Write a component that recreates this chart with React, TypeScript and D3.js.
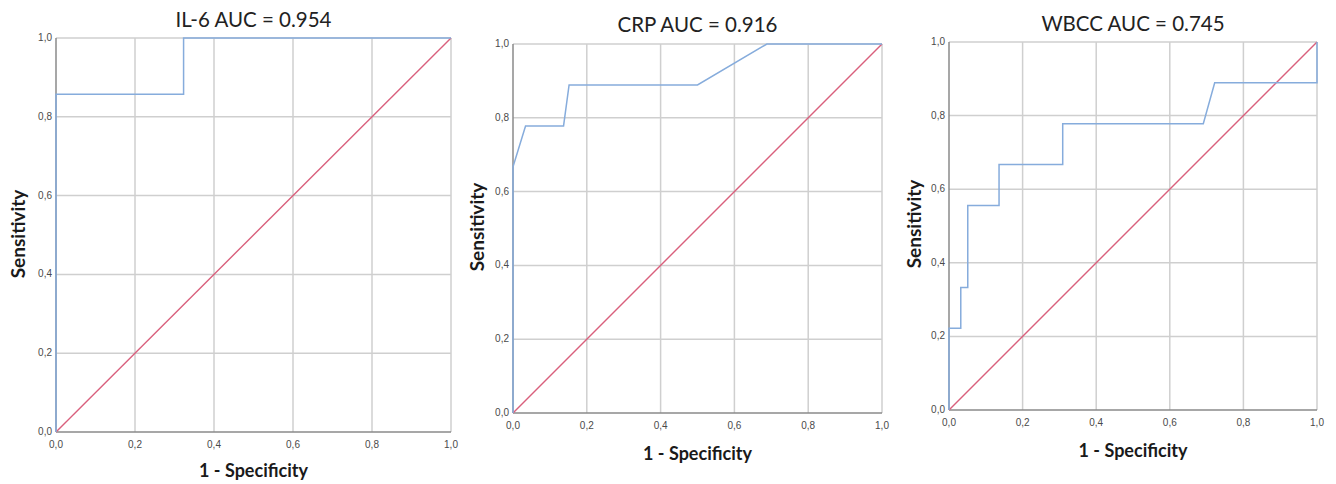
import * as d3 from "d3";

// axis ticks shared by all three ROC panels
const tickValues = [0, 0.2, 0.4, 0.6, 0.8, 1.0];
const tickLabels = ["0,0", "0,2", "0,4", "0,6", "0,8", "1,0"];

// IL-6 ROC curve (1 - specificity, sensitivity)
const il6Fpr = [0, 0, 0.323, 0.323, 1.0];
const il6Tpr = [0, 0.857, 0.857, 1.0, 1.0];

// CRP ROC curve
const crpFpr = [0, 0, 0.034, 0.137, 0.152, 0.5, 0.688, 1.0];
const crpTpr = [0, 0.667, 0.778, 0.778, 0.889, 0.889, 1.0, 1.0];

// WBCC ROC curve
const wbccFpr = [0, 0, 0.032, 0.032, 0.051, 0.051, 0.136, 0.136, 0.309, 0.309, 0.691, 0.722, 1.0, 1.0];
const wbccTpr = [0, 0.222, 0.222, 0.333, 0.333, 0.556, 0.556, 0.667, 0.667, 0.778, 0.778, 0.889, 0.889, 1.0];

const titles = ["IL-6 AUC = 0.954", "CRP AUC = 0.916", "WBCC AUC = 0.745"];

const panels = [
  { title: titles[0], fpr: il6Fpr, tpr: il6Tpr, left: 56, right: 451, top: 38, bottom: 432, titleY: 27, xTitleY: 477, yTitleX: 17, yTitleY: 234 },
  { title: titles[1], fpr: crpFpr, tpr: crpTpr, left: 513, right: 882, top: 44, bottom: 413, titleY: 32, xTitleY: 460, yTitleX: 476, yTitleY: 227 },
  { title: titles[2], fpr: wbccFpr, tpr: wbccTpr, left: 949, right: 1317, top: 42, bottom: 410, titleY: 31, xTitleY: 457, yTitleX: 913, yTitleY: 224 },
];

const FONT = "Lato, 'Open Sans', sans-serif";
const TICK_FONT = "'Liberation Sans', Arial, sans-serif";
const ROC_COLOR = "#86acdc";
const REF_COLOR = "#d9607d";

function RocPanel({ p }) {
  const x = d3.scaleLinear().domain([0, 1]).range([p.left, p.right]);
  const y = d3.scaleLinear().domain([0, 1]).range([p.bottom, p.top]);
  const points = p.fpr.map((f, i) => [f, p.tpr[i]]);
  const line = d3
    .line()
    .x((d) => x(d[0]))
    .y((d) => y(d[1]));
  const cx = (p.left + p.right) / 2;

  return (
    <g>
      {/* grid */}
      {tickValues.slice(1).map((t) => (
        <line key={"gx" + t} x1={x(t)} x2={x(t)} y1={y(0)} y2={y(1)} stroke="#cfcfcf" strokeWidth={1.5} />
      ))}
      {tickValues.slice(1).map((t) => (
        <line key={"gy" + t} x1={x(0)} x2={x(1)} y1={y(t)} y2={y(t)} stroke="#cfcfcf" strokeWidth={1.5} />
      ))}
      {/* axes */}
      <line x1={x(0)} x2={x(1)} y1={y(0)} y2={y(0)} stroke="#8a8a8a" strokeWidth={1.5} />
      <line x1={x(0)} x2={x(0)} y1={y(0)} y2={y(1)} stroke="#8a8a8a" strokeWidth={1.5} />
      {/* reference diagonal */}
      <line x1={x(0)} y1={y(0)} x2={x(1)} y2={y(1)} stroke={REF_COLOR} strokeWidth={1.4} />
      {/* ROC curve */}
      <path d={line(points)} fill="none" stroke={ROC_COLOR} strokeWidth={1.5} />
      {/* tick labels */}
      {tickValues.map((t, i) => (
        <text key={"tx" + t} x={x(t)} y={y(0) + 16} textAnchor="middle" fontSize={10} fill="#4a4a4a" fontFamily={TICK_FONT}>
          {tickLabels[i]}
        </text>
      ))}
      {tickValues.map((t, i) => (
        <text key={"ty" + t} x={x(0) - 4} y={y(t) + 3} textAnchor="end" fontSize={10} fill="#4a4a4a" fontFamily={TICK_FONT}>
          {tickLabels[i]}
        </text>
      ))}
      {/* titles */}
      <text x={cx} y={p.titleY} textAnchor="middle" fontSize={20.5} fill="#222" fontFamily={FONT}>
        {p.title}
      </text>
      <text x={cx} y={p.xTitleY} textAnchor="middle" fontSize={18} fontWeight="bold" fill="#1a1a1a" fontFamily={FONT}>
        1 - Specificity
      </text>
      <text
        transform={`translate(${p.yTitleX},${p.yTitleY}) rotate(-90)`}
        textAnchor="middle"
        dominantBaseline="central"
        fontSize={19}
        fontWeight="bold"
        fill="#1a1a1a"
        fontFamily={FONT}
      >
        Sensitivity
      </text>
    </g>
  );
}

export default function App() {
  return (
    <svg
      width={1336}
      height={484}
      viewBox="0 0 1336 484"
      style={{ position: "absolute", left: 0, top: 0, background: "#fff" }}
    >
      <rect width={1336} height={484} fill="#fff" />
      {panels.map((p) => (
        <RocPanel key={p.title} p={p} />
      ))}
    </svg>
  );
}
